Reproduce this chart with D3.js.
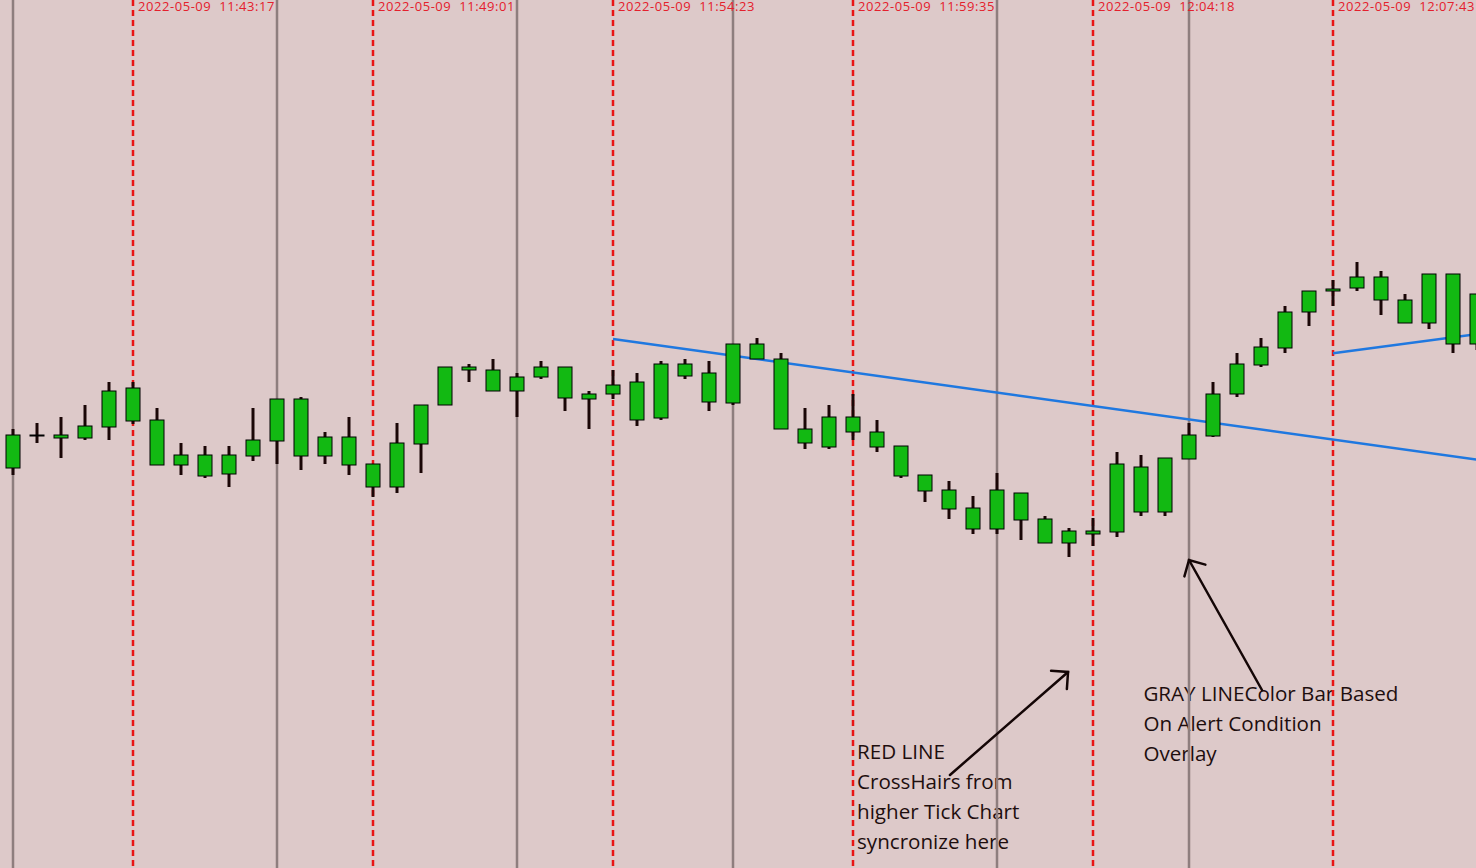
<!DOCTYPE html>
<html lang="en">

<head>
    <meta charset="utf-8">
    <title>Tick chart with crosshair sync</title>
    <script src="https://d3js.org/d3.v7.min.js"></script>
    <style>
        body {
            margin: 0;
            overflow: hidden;
        }
        .gray_line {
            stroke: #8e7e7e;
            stroke-width: 2.5;
        }
        .red_line {
            stroke: #e81414;
            stroke-width: 2.5;
            stroke-dasharray: 6, 4;
        }
        .trend {
            stroke: #1f78e0;
            stroke-width: 2.5;
            fill: none;
        }
        .wick {
            stroke: #1a0606;
            stroke-width: 3;
        }
        .body {
            fill: #12b912;
            stroke: #000;
            stroke-width: 1;
        }
        .stamp {
            fill: #e4202c;
            font-family: "Segoe UI", "Open Sans", sans-serif;
            font-size: 13px;
            letter-spacing: 0.55px;
            white-space: pre;
        }
        .note {
            fill: #1e0e0e;
            font-family: "Segoe UI", "Open Sans", sans-serif;
            font-size: 20.6px;
        }
        .arrow {
            stroke: #140606;
            stroke-width: 2.5;
            fill: none;
            stroke-linecap: round;
        }
    </style>
</head>

<body>
    <script type="text/javascript">
        var w = 1476;
        var h = 868;

        // candles, all up bars (open low, close high)
        var open = [4083, 4091, 4090.5, 4090.5, 4093.25, 4094.75, 4083.75, 4083.75, 4081, 4081.5,
            4086, 4089.75, 4086, 4086, 4083.75, 4078.25, 4078.25, 4089, 4098.75, 4107.5,
            4102.25, 4102.25, 4105.75, 4100.5, 4100.25, 4101.5, 4095, 4095.5, 4106, 4099.5,
            4099.25, 4110.25, 4092.75, 4089.25, 4088.25, 4092, 4088.25, 4081, 4077.25, 4072.75,
            4067.75, 4067.75, 4070, 4064.25, 4064.25, 4066.5, 4067, 4072, 4072, 4085.25,
            4091, 4101.5, 4108.75, 4113, 4122, 4127.25, 4128, 4125, 4119.25, 4119.25,
            4114, 4114];
        var high = [4092.75, 4094.25, 4095.75, 4098.75, 4104.5, 4104.5, 4098, 4089.25, 4088.5, 4088.5,
            4098, 4100.25, 4100.75, 4092, 4095.75, 4084, 4094.25, 4098.75, 4108.25, 4109,
            4110.25, 4106.75, 4109.75, 4108.25, 4102.25, 4107.5, 4106.75, 4109.75, 4110.25, 4109.75,
            4114, 4115.5, 4111.75, 4098, 4098.75, 4101.5, 4095, 4088.5, 4081.25, 4079.75,
            4076, 4081.75, 4076.75, 4071, 4068, 4070.5, 4087, 4086.25, 4085.5, 4094.25,
            4104.5, 4111.75, 4115.5, 4123.5, 4127.25, 4130, 4134.5, 4132.25, 4126.5, 4131.5,
            4131.5, 4126.5];
        var low = [4081.25, 4089.25, 4085.5, 4090, 4090, 4094, 4083.75, 4081.25, 4080.5, 4078.25,
            4084.75, 4084, 4082.5, 4084, 4081.25, 4075.75, 4076.75, 4081.75, 4098.75, 4104.5,
            4102.25, 4095.75, 4105.25, 4097.25, 4092.75, 4100.25, 4093.5, 4095, 4105.25, 4097.25,
            4098.75, 4110.25, 4092.75, 4087.75, 4087.75, 4090, 4087, 4080.5, 4074.5, 4070.25,
            4066.5, 4066.5, 4065, 4064.25, 4060.75, 4063.5, 4065.75, 4071, 4071, 4085.25,
            4090.75, 4100.75, 4108.25, 4111.75, 4118.5, 4123.5, 4127.25, 4121.25, 4119.25, 4117.75,
            4111.75, 4112.5];
        var close = [4091.25, 4091.25, 4091.25, 4093.5, 4102.25, 4103, 4095, 4086.25, 4086.25, 4086.25,
            4090, 4100.25, 4100.25, 4090.75, 4090.75, 4084, 4089.25, 4098.75, 4108.25, 4108.25,
            4107.5, 4105.75, 4108.25, 4108.25, 4101.5, 4103.75, 4104.5, 4109, 4109, 4106.75,
            4114, 4114, 4110.25, 4092.75, 4095.75, 4095.75, 4092, 4088.5, 4081.25, 4077.5,
            4073, 4077.5, 4076.75, 4070.25, 4067.25, 4067.25, 4084, 4083.25, 4085.5, 4091.25,
            4101.5, 4109, 4113.25, 4122, 4127.25, 4127.75, 4130.75, 4130.75, 4125, 4131.5,
            4131.5, 4126.5];

        // crosshair lines from the higher tick chart (red) and alert bars (gray)
        var redBars = [5, 15, 25, 35, 45, 55];
        var redTimes = ["2022-05-09  11:43:17", "2022-05-09  11:49:01", "2022-05-09  11:54:23",
            "2022-05-09  11:59:35", "2022-05-09  12:04:18", "2022-05-09  12:07:43"];
        var grayBars = [0, 11, 21, 30, 41, 49];

        // trend lines: [bar, price] -> [bar, price]
        var trendLines = [
            [[25, 4115.25], [61, 4085.1]],
            [[55, 4111.7], [61, 4116.45]]
        ];

        // annotations
        var redNote = ["RED LINE", "CrossHairs from", "higher Tick Chart", "syncronize here"];
        var grayNote = ["GRAY LINEColor Bar Based", "On Alert Condition", "Overlay"];
        var arrows = [
            [[39.04, 4006.25], [43.96, 4032]],
            [[52.04, 4027.5], [49.0, 4060]]
        ];

        var x = d3.scaleLinear().domain([0, 61]).range([13, 13 + 24 * 61]);
        var y = d3.scaleLinear().domain([4200, 3983]).range([0, 868]);

        var svg = d3.select("body").append("svg")
            .attr("width", w)
            .attr("height", h);

        svg.append("rect")
            .attr("width", w)
            .attr("height", h)
            .attr("fill", "#ddc9c9");

        // annotation text (under the lines)
        var notes = svg.append("g").attr("class", "note");
        notes.selectAll("text.red")
            .data(redNote).enter()
            .append("text")
            .attr("x", x(35) + 4)
            .attr("y", (d, i) => y(4010.25) + i * 30)
            .text(d => d);
        notes.selectAll("text.gray")
            .data(grayNote).enter()
            .append("text")
            .attr("x", x(47.1))
            .attr("y", (d, i) => y(4024.75) + i * 30)
            .text(d => d);

        svg.append("g")
            .selectAll("line")
            .data(grayBars).enter()
            .append("line")
            .attr("class", "gray_line")
            .attr("x1", d => x(d))
            .attr("x2", d => x(d))
            .attr("y1", 0)
            .attr("y2", h);

        svg.append("g")
            .selectAll("line")
            .data(redBars).enter()
            .append("line")
            .attr("class", "red_line")
            .attr("x1", d => x(d))
            .attr("x2", d => x(d))
            .attr("y1", 0)
            .attr("y2", h);

        svg.append("g")
            .selectAll("line")
            .data(trendLines).enter()
            .append("line")
            .attr("class", "trend")
            .attr("x1", d => x(d[0][0]))
            .attr("y1", d => y(d[0][1]))
            .attr("x2", d => x(d[1][0]))
            .attr("y2", d => y(d[1][1]));

        // candles
        var bars = d3.range(open.length).map(i => ({ i: i, o: open[i], h: high[i], l: low[i], c: close[i] }));
        var candle = svg.append("g")
            .selectAll("g")
            .data(bars).enter()
            .append("g");
        candle.append("line")
            .attr("class", "wick")
            .attr("x1", d => x(d.i))
            .attr("x2", d => x(d.i))
            .attr("y1", d => y(d.h))
            .attr("y2", d => y(d.l));
        candle.append("rect")
            .attr("class", "body")
            .attr("x", d => x(d.i) - 7)
            .attr("width", 14)
            .attr("y", d => y(Math.max(d.o, d.c)))
            .attr("height", d => Math.max(1, Math.abs(y(d.o) - y(d.c))));

        // arrows
        var arr = svg.append("g").attr("class", "arrow");
        arrows.forEach(function (a) {
            var x0 = x(a[0][0]), y0 = y(a[0][1]);
            var x1 = x(a[1][0]), y1 = y(a[1][1]);
            var back = Math.atan2(y0 - y1, x0 - x1);
            var len = 17;
            var p = [
                [x1 + len * Math.cos(back - Math.PI / 4), y1 + len * Math.sin(back - Math.PI / 4)],
                [x1, y1],
                [x1 + len * Math.cos(back + Math.PI / 4), y1 + len * Math.sin(back + Math.PI / 4)]
            ];
            arr.append("line")
                .attr("x1", x0).attr("y1", y0)
                .attr("x2", x1).attr("y2", y1);
            arr.append("path").attr("d", d3.line()(p));
        });

        // time stamps of the red crosshairs
        svg.append("g")
            .selectAll("text")
            .data(redBars).enter()
            .append("text")
            .attr("class", "stamp")
            .attr("x", d => x(d) + 5)
            .attr("y", 11)
            .text((d, i) => redTimes[i]);
    </script>
</body>

</html>
